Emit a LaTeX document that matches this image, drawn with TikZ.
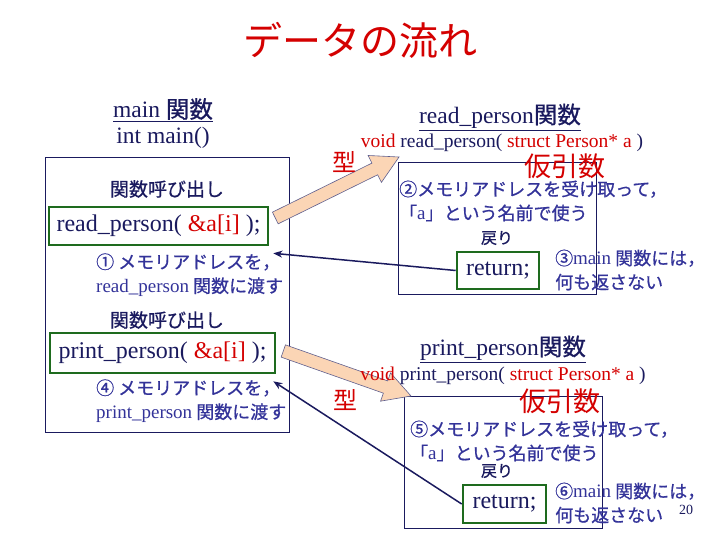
\documentclass[tikz,border=0pt]{standalone}
\usepackage{fontspec}
\setmainfont{Liberation Serif}
\newfontfamily\jp{Noto Sans CJK JP}[FakeBold=0.7]
\newfontfamily\jpthin{Noto Sans CJK JP}
\usetikzlibrary{positioning,calc,arrows.meta}

\definecolor{navy}{HTML}{1A1A5E}
\definecolor{ink}{HTML}{333399}
\definecolor{crimson}{HTML}{D40000}
\definecolor{leaf}{HTML}{1E6B1E}
\definecolor{peach}{HTML}{FBD5B5}

\tikzset{
	frame/.style={draw=navy, line width=0.8pt, inner sep=0pt},
	callbox/.style={draw=leaf, line width=2.6pt, inner sep=0pt, text=navy,
		font=\fontsize{24}{26}\selectfont},
	head/.style={text=navy, font=\fontsize{23.5}{26}\selectfont},
	sig/.style={text=navy, font=\fontsize{19.5}{22}\selectfont},
	label/.style={text=navy, font=\jp\fontsize{19}{21}\selectfont},
	note/.style={text=ink, font=\jp\fontsize{18}{24}\selectfont, align=left, anchor=west, inner sep=0pt},
	redmark/.style={text=crimson, font=\jpthin\fontsize{#1}{#1}\selectfont},
	retarrow/.style={draw=navy, line width=1.5pt, -{Stealth[length=9pt,width=7pt]}},
}
\newcommand\lat[1]{{\rmfamily\fontsize{19}{24}\selectfont #1}}

% block arrow from #1 to #2
\newcommand\blockarrow[2]{
	\coordinate (hb) at ($(#2)!27pt!(#1)$);
	\filldraw[fill=peach, draw=navy!70, line width=0.6pt]
		($(#1)!6.5pt!90:(#2)$) -- ($(hb)!6.5pt!90:(#2)$) -- ($(hb)!15pt!90:(#2)$)
		-- (#2) -- ($(hb)!15pt!-90:(#2)$) -- ($(hb)!6.5pt!-90:(#2)$)
		-- ($(#1)!6.5pt!-90:(#2)$) -- cycle;
}

\begin{document}
\begin{tikzpicture}[x=1pt, y=-1pt]
	\useasboundingbox (0,0) rectangle (720,540);
	
	% frames
	\node[frame, minimum width=244pt, minimum height=275pt] (mainbox) at (167,294.5) {};
	\node[frame, minimum width=198pt, minimum height=132pt] (rbox) at (497,228) {};
	\node[frame, minimum width=198pt, minimum height=132pt] (pbox) at (503,462) {};
	
	% calls and returns
	\node[callbox, minimum width=219pt, minimum height=38pt] (call1) at (158.5,226)
		{read\_person( \textcolor{crimson}{\&a[i]} );};
	\node[callbox, minimum width=225pt, minimum height=40pt] (call2) at (162.5,353)
		{print\_person( \textcolor{crimson}{\&a[i]} );};
	\node[callbox, minimum width=82pt, minimum height=37pt] (ret1) at (498,270.5) {return;};
	\node[callbox, minimum width=83pt, minimum height=38pt] (ret2) at (504.5,504) {return;};
	
	% arrows
	\coordinate (tip1) at (399,157);
	\coordinate (tip2) at (411,396);
	\coordinate (tail1) at ($(call1.east)+(6,-8)$);
	\coordinate (tail2) at ($(call2.east)+(7,-2)$);
	\blockarrow{tail1}{tip1}
	\blockarrow{tail2}{tip2}
	\draw[retarrow] (ret1.west) -- ([shift={(4,7)}]call1.south east);
	\draw[retarrow] (ret2.west) -- ([shift={(-3,7)}]call2.south east);
	
	% title
	\node[redmark=39] (title) at (360,40) {データの流れ};
	
	% main
	\node[head] (mainhead) at (163,110) {\underline{main {\jp 関数}}};
	\node[head] (mainsig) at (163,138) {int main()};
	\node[label] (calllab1) at (167,189) {関数呼び出し};
	\node[note] (note1) at (96,275) {① メモリアドレスを，\\\lat{read\_person} 関数に渡す};
	\node[label] (calllab2) at (167,320) {関数呼び出し};
	\node[note] (note2) at (96,401) {④ メモリアドレスを，\\\lat{print\_person} 関数に渡す};
	
	% read_person
	\node[head] (rhead) at (500,117) {\underline{read\_person{\jp 関数}}};
	\node[sig] (rsig) at (502,143) {\textcolor{crimson}{void} read\_person( \textcolor{crimson}{struct Person* a} )};
	\node[redmark=24] (kata1) at (344,162) {型};
	\node[redmark=27] (kari1) at (565,166) {仮引数};
	\node[note] (rnote1) at (399,201) {②メモリアドレスを受け取って，\\「\lat{a}」という名前で使う};
	\node[label, font=\jp\fontsize{16}{18}\selectfont] (back1) at (497,238) {戻り};
	\node[note] (rnote2) at (555,270) {③\lat{main} 関数には，\\何も返さない};
	
	% print_person
	\node[head] (phead) at (503,349) {\underline{print\_person{\jp 関数}}};
	\node[sig] (psig) at (503,376) {\textcolor{crimson}{void} print\_person( \textcolor{crimson}{struct Person* a} )};
	\node[redmark=24] (kata2) at (345,400) {型};
	\node[redmark=27] (kari2) at (560,401) {仮引数};
	\node[note] (pnote1) at (410,441) {⑤メモリアドレスを受け取って，\\「\lat{a}」という名前で使う};
	\node[label, font=\jp\fontsize{16}{18}\selectfont] (back2) at (497,471) {戻り};
	\node[note] (pnote2) at (555,503) {⑥\lat{main} 関数には，\\何も返さない};
	
	\node[text=navy, font=\fontsize{14}{14}\selectfont] (page) at (686,510) {20};
\end{tikzpicture}
\end{document}
